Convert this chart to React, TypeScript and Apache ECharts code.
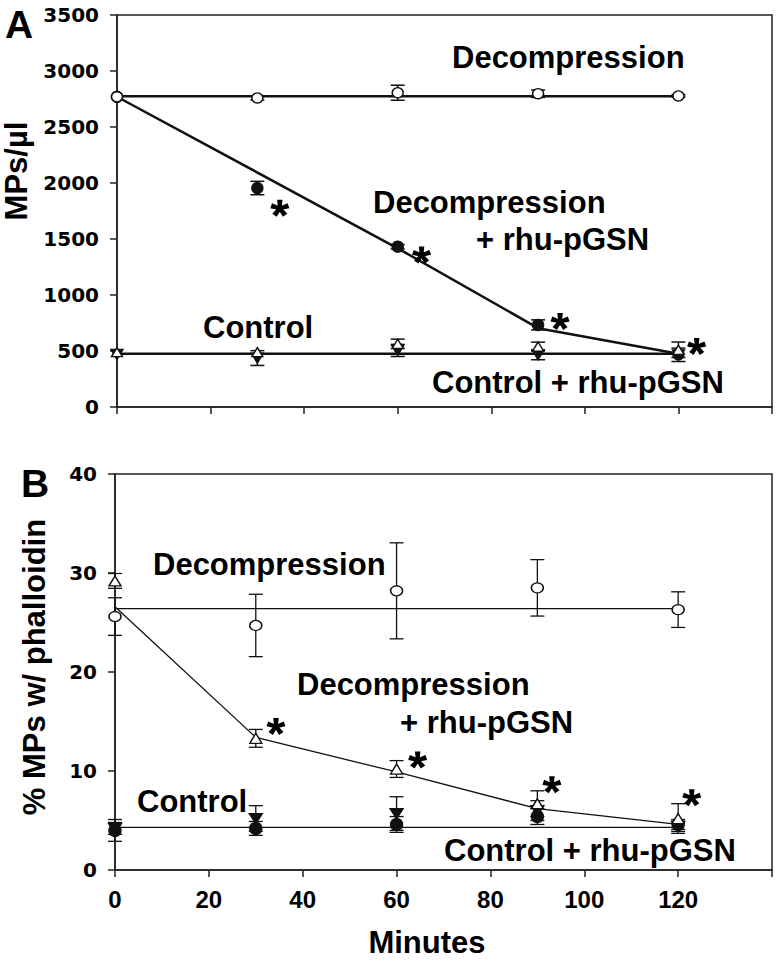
import React, { useEffect, useRef } from "react";
import * as echarts from "echarts";

// ---------- data ----------
const minutes = [0, 30, 60, 90, 120];
const fitMinutesA = [0, 60, 90, 120];
const flatMinutes = [0, 120];

// Panel A : MPs/µl
const aDecomp = [2770, 2759, 2806, 2797, 2777]; // open circles
const aDecompErr = [0, 18, 67, 33, 10];
const aDecompFit = [2775, 2775];
const aRhu = [2770, 1955, 1431, 733, 470]; // filled circles
const aRhuErr = [0, 60, 20, 45, 0];
const aRhuFit = [2770, 1417, 704, 475];
const aCtrl = [470, 437, 505, 466, 466]; // filled down triangles
const aCtrlErr = [0, 66, 54, 44, 60];
const aCtrlRhu = [490, 490, 564, 540, 511]; // open triangles
const aCtrlRhuErr = [0, 0, 42, 39, 69];
const aCtrlFit = [475, 475];
const aStarX = [34.8, 65.1, 94.7, 123.9];
const aStarY = [1774, 1357, 763, 540];

// Panel B : % MPs w/ phalloidin
const bDecomp = [25.6, 24.7, 28.2, 28.5, 26.3]; // open circles
const bDecompErr = [1.9, 3.15, 4.85, 2.85, 1.8];
const bDecompFit = [26.4, 26.4];
const bRhu = [29.2, 13.3, 10.2, 6.7, 5.2]; // open triangles
const bRhuErr = [0.75, 0.9, 0.85, 1.3, 1.5];
const bRhuFit = [26.6, 13.4, 9.9, 6.2, 4.6];
const bCtrl = [4.0, 4.2, 4.6, 5.4, 4.6]; // filled circles
const bCtrlErr = [1.1, 0.7, 0.8, 0.8, 0.5];
const bCtrlRhu = [4.2, 5.2, 5.7, 6.0, 4.4]; // filled down triangles
const bCtrlRhuErr = [0.6, 1.3, 1.7, 1.0, 0.5];
const bCtrlFit = [4.3, 4.3];
const bStarX = [34.3, 64.5, 93.1, 122.9];
const bStarY = [14.5, 11.1, 8.6, 7.3];

const xTicks = { min: 0, max: 140, interval: 20 };
const aTicks = { min: 0, max: 3500, interval: 500 };
const bTicks = { min: 0, max: 40, interval: 10 };

// ---------- helpers ----------
const pts = (xs: number[], ys: number[]) => xs.map((x, i) => [x, ys[i]]);
const errPts = (xs: number[], ys: number[], es: number[]) =>
  xs.map((x, i) => [x, ys[i], es[i]]).filter((d) => d[2] > 0);

const INK = "#111";
const TXT = 'bold 31px "Liberation Sans", Arial, sans-serif';

function asteriskSymbol() {
  const arms = [90, 18, 162, 234, 306];
  const wb = 0.2;
  const wt = 0.3;
  const p = (x: number, y: number) => `${(x * 100).toFixed(1)} ${(y * 100).toFixed(1)}`;
  let d = "";
  for (const a of arms) {
    const r = (a * Math.PI) / 180;
    const dx = Math.cos(r);
    const dy = -Math.sin(r);
    const nx = -dy;
    const ny = dx;
    d += `M${p(nx * wb, ny * wb)} L${p(dx + nx * wt, dy + ny * wt)} L${p(dx - nx * wt, dy - ny * wt)} L${p(-nx * wb, -ny * wb)} Z `;
  }
  return "path://" + d.trim();
}

function lineSeries(gi: number, data: number[][], width: number) {
  return {
    type: "line",
    xAxisIndex: gi,
    yAxisIndex: gi,
    data,
    symbol: "none",
    lineStyle: { color: INK, width },
    z: 2,
    silent: true,
  };
}

function errSeries(gi: number, data: number[][], cap: number, width: number) {
  return {
    type: "custom",
    xAxisIndex: gi,
    yAxisIndex: gi,
    data,
    z: 3,
    silent: true,
    encode: { x: 0, y: 1 },
    renderItem: (params: any, api: any) => {
      const x = api.value(0);
      const y = api.value(1);
      const e = api.value(2);
      const t = api.coord([x, y + e]);
      const b = api.coord([x, y - e]);
      const st = { stroke: INK, lineWidth: width };
      return {
        type: "group",
        children: [
          { type: "line", shape: { x1: t[0], y1: t[1], x2: b[0], y2: b[1] }, style: st },
          { type: "line", shape: { x1: t[0] - cap, y1: t[1], x2: t[0] + cap, y2: t[1] }, style: st },
          { type: "line", shape: { x1: b[0] - cap, y1: b[1], x2: b[0] + cap, y2: b[1] }, style: st },
        ],
      };
    },
  };
}

function markSeries(
  gi: number,
  data: number[][],
  symbol: string,
  size: number | number[],
  filled: boolean,
  z: number,
  rotate = 0
) {
  return {
    type: "scatter",
    xAxisIndex: gi,
    yAxisIndex: gi,
    data,
    symbol,
    symbolSize: size,
    symbolRotate: rotate,
    itemStyle: {
      color: filled ? INK : "#fff",
      borderColor: INK,
      borderWidth: 1.4,
      opacity: 1,
    },
    z,
    silent: true,
  };
}

function starSeries(gi: number, data: number[][]) {
  return {
    type: "scatter",
    xAxisIndex: gi,
    yAxisIndex: gi,
    data,
    symbol: asteriskSymbol(),
    symbolSize: [19, 17],
    symbolKeepAspect: false,
    itemStyle: { color: "#000", opacity: 1 },
    z: 9,
    silent: true,
  };
}

function xAxis(gi: number, showLabels: boolean) {
  return {
    type: "value",
    gridIndex: gi,
    ...xTicks,
    axisLine: { show: true, onZero: false, lineStyle: { color: "#222", width: 1.5 } },
    axisTick: { show: true, inside: false, length: 7, lineStyle: { color: "#222", width: 1.5 } },
    splitLine: { show: false },
    axisLabel: {
      show: showLabels,
      formatter: (v: number) => (v === 140 ? "" : String(v)),
      fontFamily: '"Liberation Sans", Arial, sans-serif',
      fontWeight: "bold",
      fontSize: 24,
      color: "#000",
      margin: 17,
    },
  };
}

function yAxis(gi: number, ticks: any) {
  return {
    type: "value",
    gridIndex: gi,
    ...ticks,
    axisLine: { show: true, onZero: false, lineStyle: { color: "#222", width: 1.5 } },
    axisTick: { show: true, inside: false, length: 7, lineStyle: { color: "#222", width: 1.5 } },
    splitLine: { show: false },
    axisLabel: {
      formatter: (v: number) => String(v),
      fontFamily: '"DejaVu Sans", sans-serif',
      fontWeight: "bold",
      fontSize: 20,
      color: "#000",
      margin: 18,
    },
  };
}

function label(text: string, x: number, y: number) {
  return {
    type: "text",
    x,
    y,
    silent: true,
    style: {
      text,
      font: TXT,
      fill: "#000",
      textAlign: "left",
      textVerticalAlign: "middle",
      align: "left",
      verticalAlign: "middle",
    },
  };
}

function vtitle(text: string, x: number, y: number) {
  return {
    type: "text",
    x,
    y,
    rotation: Math.PI / 2,
    silent: true,
    style: {
      text,
      font: TXT,
      fill: "#000",
      textAlign: "center",
      textVerticalAlign: "middle",
      align: "center",
      verticalAlign: "middle",
    },
  };
}

function panelLetter(text: string, x: number, y: number) {
  return {
    type: "text",
    x,
    y,
    silent: true,
    style: {
      text,
      font: 'bold 39px "Liberation Sans", Arial, sans-serif',
      fill: "#000",
      textAlign: "left",
      textVerticalAlign: "middle",
      align: "left",
      verticalAlign: "middle",
    },
  };
}

export default function App() {
  const ref = useRef<HTMLDivElement>(null);

  useEffect(() => {
    if (!ref.current) return;
    const chart = echarts.init(ref.current, undefined, { renderer: "svg" });

    const option: any = {
      animation: false,
      backgroundColor: "#fff",
      grid: [
        { left: 117, top: 15, width: 655, height: 392, show: true, borderColor: "#222", borderWidth: 1.5, backgroundColor: "transparent" },
        { left: 115, top: 474, width: 657, height: 396, show: true, borderColor: "#222", borderWidth: 1.5, backgroundColor: "transparent" },
      ],
      xAxis: [xAxis(0, false), xAxis(1, true)],
      yAxis: [yAxis(0, aTicks), yAxis(1, bTicks)],
      series: [
        // Panel A
        lineSeries(0, pts(flatMinutes, aDecompFit), 2.5),
        lineSeries(0, pts(fitMinutesA, aRhuFit), 2.5),
        lineSeries(0, pts(flatMinutes, aCtrlFit), 2.5),
        errSeries(0, errPts(minutes, aDecomp, aDecompErr), 7, 1.5),
        errSeries(0, errPts(minutes, aRhu, aRhuErr), 7, 1.5),
        errSeries(0, errPts(minutes, aCtrl, aCtrlErr), 7, 1.5),
        errSeries(0, errPts(minutes, aCtrlRhu, aCtrlRhuErr), 7, 1.5),
        markSeries(0, pts(minutes, aRhu), "circle", 11, true, 4),
        markSeries(0, pts(minutes, aCtrl), "triangle", [12, 10], true, 5, 180),
        markSeries(0, pts(minutes, aCtrlRhu), "triangle", [11, 9], false, 6),
        markSeries(0, pts(minutes, aDecomp), "circle", [11, 10], false, 7),
        starSeries(0, pts(aStarX, aStarY)),
        // Panel B
        lineSeries(1, pts(flatMinutes, bDecompFit), 1.3),
        lineSeries(1, pts(minutes, bRhuFit), 1.3),
        lineSeries(1, pts(flatMinutes, bCtrlFit), 1.3),
        errSeries(1, errPts(minutes, bDecomp, bDecompErr), 7, 1.3),
        errSeries(1, errPts(minutes, bRhu, bRhuErr), 7, 1.3),
        errSeries(1, errPts(minutes, bCtrl, bCtrlErr), 7, 1.3),
        errSeries(1, errPts(minutes, bCtrlRhu, bCtrlRhuErr), 7, 1.3),
        markSeries(1, pts(minutes, bCtrl), "circle", 12, true, 4),
        markSeries(1, pts(minutes, bCtrlRhu), "triangle", [13, 10], true, 5, 180),
        markSeries(1, pts(minutes, bRhu), "triangle", [12, 10], false, 6),
        markSeries(1, pts(minutes, bDecomp), "circle", [12, 10], false, 7),
        starSeries(1, pts(bStarX, bStarY)),
      ],
      graphic: [
        panelLetter("A", 5, 24),
        panelLetter("B", 21, 483),
        vtitle("MPs/µl", 16, 171),
        vtitle("% MPs w/ phalloidin", 34, 667),
        // Panel A labels
        label("Decompression", 452, 57.6),
        label("Decompression", 373, 202.6),
        label("+ rhu-pGSN", 476, 239.3),
        label("Control", 203, 327.3),
        label("Control + rhu-pGSN", 432, 382.6),
        // Panel B labels
        label("Decompression", 153, 564.3),
        label("Decompression", 297, 684.3),
        label("+ rhu-pGSN", 400, 722.6),
        label("Control", 137, 801),
        label("Control + rhu-pGSN", 444, 850.3),
        {
          type: "text",
          x: 427,
          y: 942,
          silent: true,
          style: {
            text: "Minutes",
            font: TXT,
            fill: "#000",
            textAlign: "center",
            textVerticalAlign: "middle",
            align: "center",
            verticalAlign: "middle",
          },
        },
      ],
    };

    chart.setOption(option);
    return () => chart.dispose();
  }, []);

  return (
    <div
      ref={ref}
      style={{ position: "fixed", left: 0, top: 0, width: 777, height: 965, background: "#fff" }}
    />
  );
}
